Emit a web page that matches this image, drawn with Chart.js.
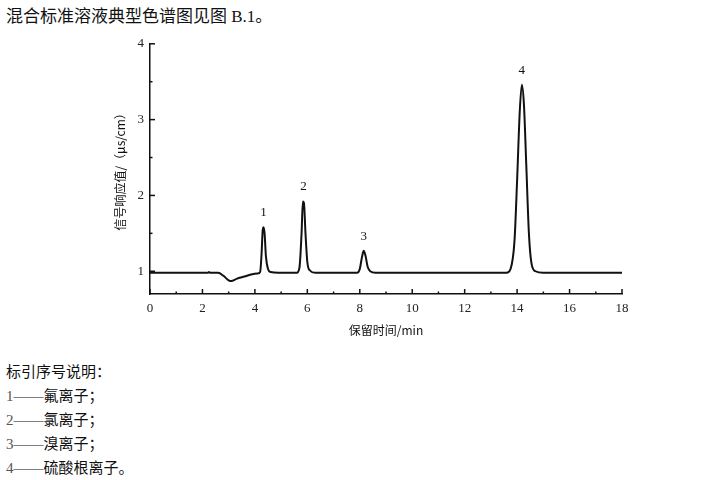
<!DOCTYPE html>
<html>
<head>
<meta charset="utf-8">
<script src="https://cdn.jsdelivr.net/npm/chart.js@4/dist/chart.umd.min.js"></script>
<style>
  body { margin: 0; background: #fff; width: 706px; height: 480px; position: relative; overflow: hidden; }
  .txt { position: absolute; left: 6px; font-family: "Liberation Serif", "Noto Sans CJK SC", serif; color: #111; white-space: nowrap; }
  #title { top: 2px; font-size: 17px; }
  .note { font-size: 15px; }
  .num { color: #555; }
  #wrap { position: absolute; left: 100px; top: 30px; width: 560px; height: 310px; }
</style>
</head>
<body>
<div id="title" class="txt">混合标准溶液典型色谱图见图 B.1。</div>
<div id="wrap"><canvas id="chart"></canvas></div>
<div class="txt note" style="top:360px">标引序号说明：</div>
<div class="txt note" style="top:384px"><span class="num">1</span>——氟离子；</div>
<div class="txt note" style="top:408px"><span class="num">2</span>——氯离子；</div>
<div class="txt note" style="top:432px"><span class="num">3</span>——溴离子；</div>
<div class="txt note" style="top:456px"><span class="num">4</span>——硫酸根离子。</div>
<script>
// 保留时间 (min) 와 신호값
var times = [0, 2.2, 2.25, 2.3, 2.6, 2.8, 3.0, 3.1, 3.3, 3.6, 3.9, 4.1, 4.2, 4.25, 4.3, 4.33, 4.37, 4.42, 4.5, 4.6, 4.9,
  5.6, 5.7, 5.78, 5.83, 5.87, 5.93, 6.0, 6.1, 6.3,
  7.9, 8.0, 8.08, 8.15, 8.22, 8.3, 8.4, 8.6,
  13.6, 13.75, 13.9, 14.0, 14.1, 14.18, 14.26, 14.35, 14.45, 14.55, 14.7, 15.0, 18];
var signal = [0.98, 0.98, 0.99, 0.98, 0.98, 0.94, 0.88, 0.87, 0.90, 0.93, 0.96, 0.97, 0.99, 1.2, 1.55, 1.58, 1.5, 1.2, 1.03, 0.99, 0.98,
  0.98, 1.05, 1.5, 1.92, 1.9, 1.5, 1.12, 1.01, 0.98,
  0.98, 1.03, 1.18, 1.27, 1.2, 1.06, 1.0, 0.98,
  0.98, 1.03, 1.4, 2.2, 3.1, 3.46, 3.2, 2.4, 1.5, 1.1, 1.0, 0.98, 0.98];

// 峰标号
var peakNames = ["1", "2", "3", "4"];
var peakTimes = [4.33, 5.85, 8.15, 14.18];
var peakTops = [1.58, 1.93, 1.27, 3.46];

var xTicks = [0, 1, 2, 3, 4, 5, 6, 7, 8, 9, 10, 11, 12, 13, 14, 15, 16, 17, 18];
var yTicks = [1, 1.5, 2, 2.5, 3, 3.5, 4];

var serif = "'Liberation Serif', 'DejaVu Serif', serif";

// 축 안쪽으로 눈금 그리기 + 피크 번호
var marks = {
  id: "marks",
  afterDraw: function(chart) {
    var ctx = chart.ctx;
    var xs = chart.scales.x, ys = chart.scales.y;
    var area = chart.chartArea;
    ctx.save();
    ctx.strokeStyle = "#111";
    ctx.lineWidth = 1.5;
    xs.ticks.forEach(function(t) {
      var px = xs.getPixelForValue(t.value);
      var len = (t.value % 2 === 0) ? 5 : 2.5;
      ctx.beginPath();
      ctx.moveTo(px, area.bottom);
      ctx.lineTo(px, area.bottom - len);
      ctx.stroke();
    });
    ys.ticks.forEach(function(t) {
      var py = ys.getPixelForValue(t.value);
      var len = Number.isInteger(t.value) ? 5 : 2.5;
      ctx.beginPath();
      ctx.moveTo(area.left, py);
      ctx.lineTo(area.left + len, py);
      ctx.stroke();
    });
    ctx.fillStyle = "#111";
    ctx.font = "13px " + serif;
    ctx.textAlign = "center";
    ctx.textBaseline = "bottom";
    for (var i = 0; i < peakNames.length; i++) {
      ctx.fillText(peakNames[i], xs.getPixelForValue(peakTimes[i]), ys.getPixelForValue(peakTops[i]) - 8);
    }
    ctx.restore();
  }
};

var pts = [];
for (var i = 0; i < times.length; i++) pts.push({ x: times[i], y: signal[i] });

new Chart(document.getElementById("chart"), {
  type: "line",
  data: {
    datasets: [{
      data: pts,
      borderColor: "#111",
      borderWidth: 2,
      pointRadius: 0,
      cubicInterpolationMode: "monotone",
      fill: false
    }]
  },
  options: {
    responsive: true,
    maintainAspectRatio: false,
    animation: false,
    layout: { padding: { top: 10, right: 38, bottom: 0, left: 9 } },
    plugins: { legend: { display: false }, tooltip: { enabled: false } },
    scales: {
      x: {
        type: "linear",
        min: 0,
        max: 18,
        afterBuildTicks: function(s) { s.ticks = xTicks.map(function(v) { return { value: v }; }); },
        afterFit: function(s) { s.height = 46; },
        grid: { drawOnChartArea: false, drawTicks: false },
        border: { display: true, color: "#111", width: 1.5 },
        ticks: {
          color: "#222",
          padding: 7,
          maxRotation: 0,
          autoSkip: false,
          font: { size: 13, family: serif },
          callback: function(v) { return v % 2 === 0 ? v : ""; }
        },
        title: {
          display: true,
          text: "保留时间/min",
          color: "#111",
          padding: { top: 2, bottom: 2 },
          font: { size: 12, family: "'Noto Sans CJK SC', " + serif }
        }
      },
      y: {
        min: 0.7,
        max: 4,
        afterBuildTicks: function(s) { s.ticks = yTicks.map(function(v) { return { value: v }; }); },
        afterFit: function(s) { s.width = 41; },
        grid: { drawOnChartArea: false, drawTicks: false },
        border: { display: true, color: "#111", width: 1.5 },
        ticks: {
          color: "#222",
          padding: 6,
          autoSkip: false,
          font: { size: 13, family: serif },
          callback: function(v) { return Number.isInteger(v) ? v : ""; }
        },
        title: {
          display: true,
          text: "信号响应值/（μs/cm）",
          color: "#111",
          padding: { bottom: 4 },
          font: { size: 12, family: "'Noto Sans CJK SC', " + serif }
        }
      }
    }
  },
  plugins: [marks]
});
</script>
</body>
</html>
